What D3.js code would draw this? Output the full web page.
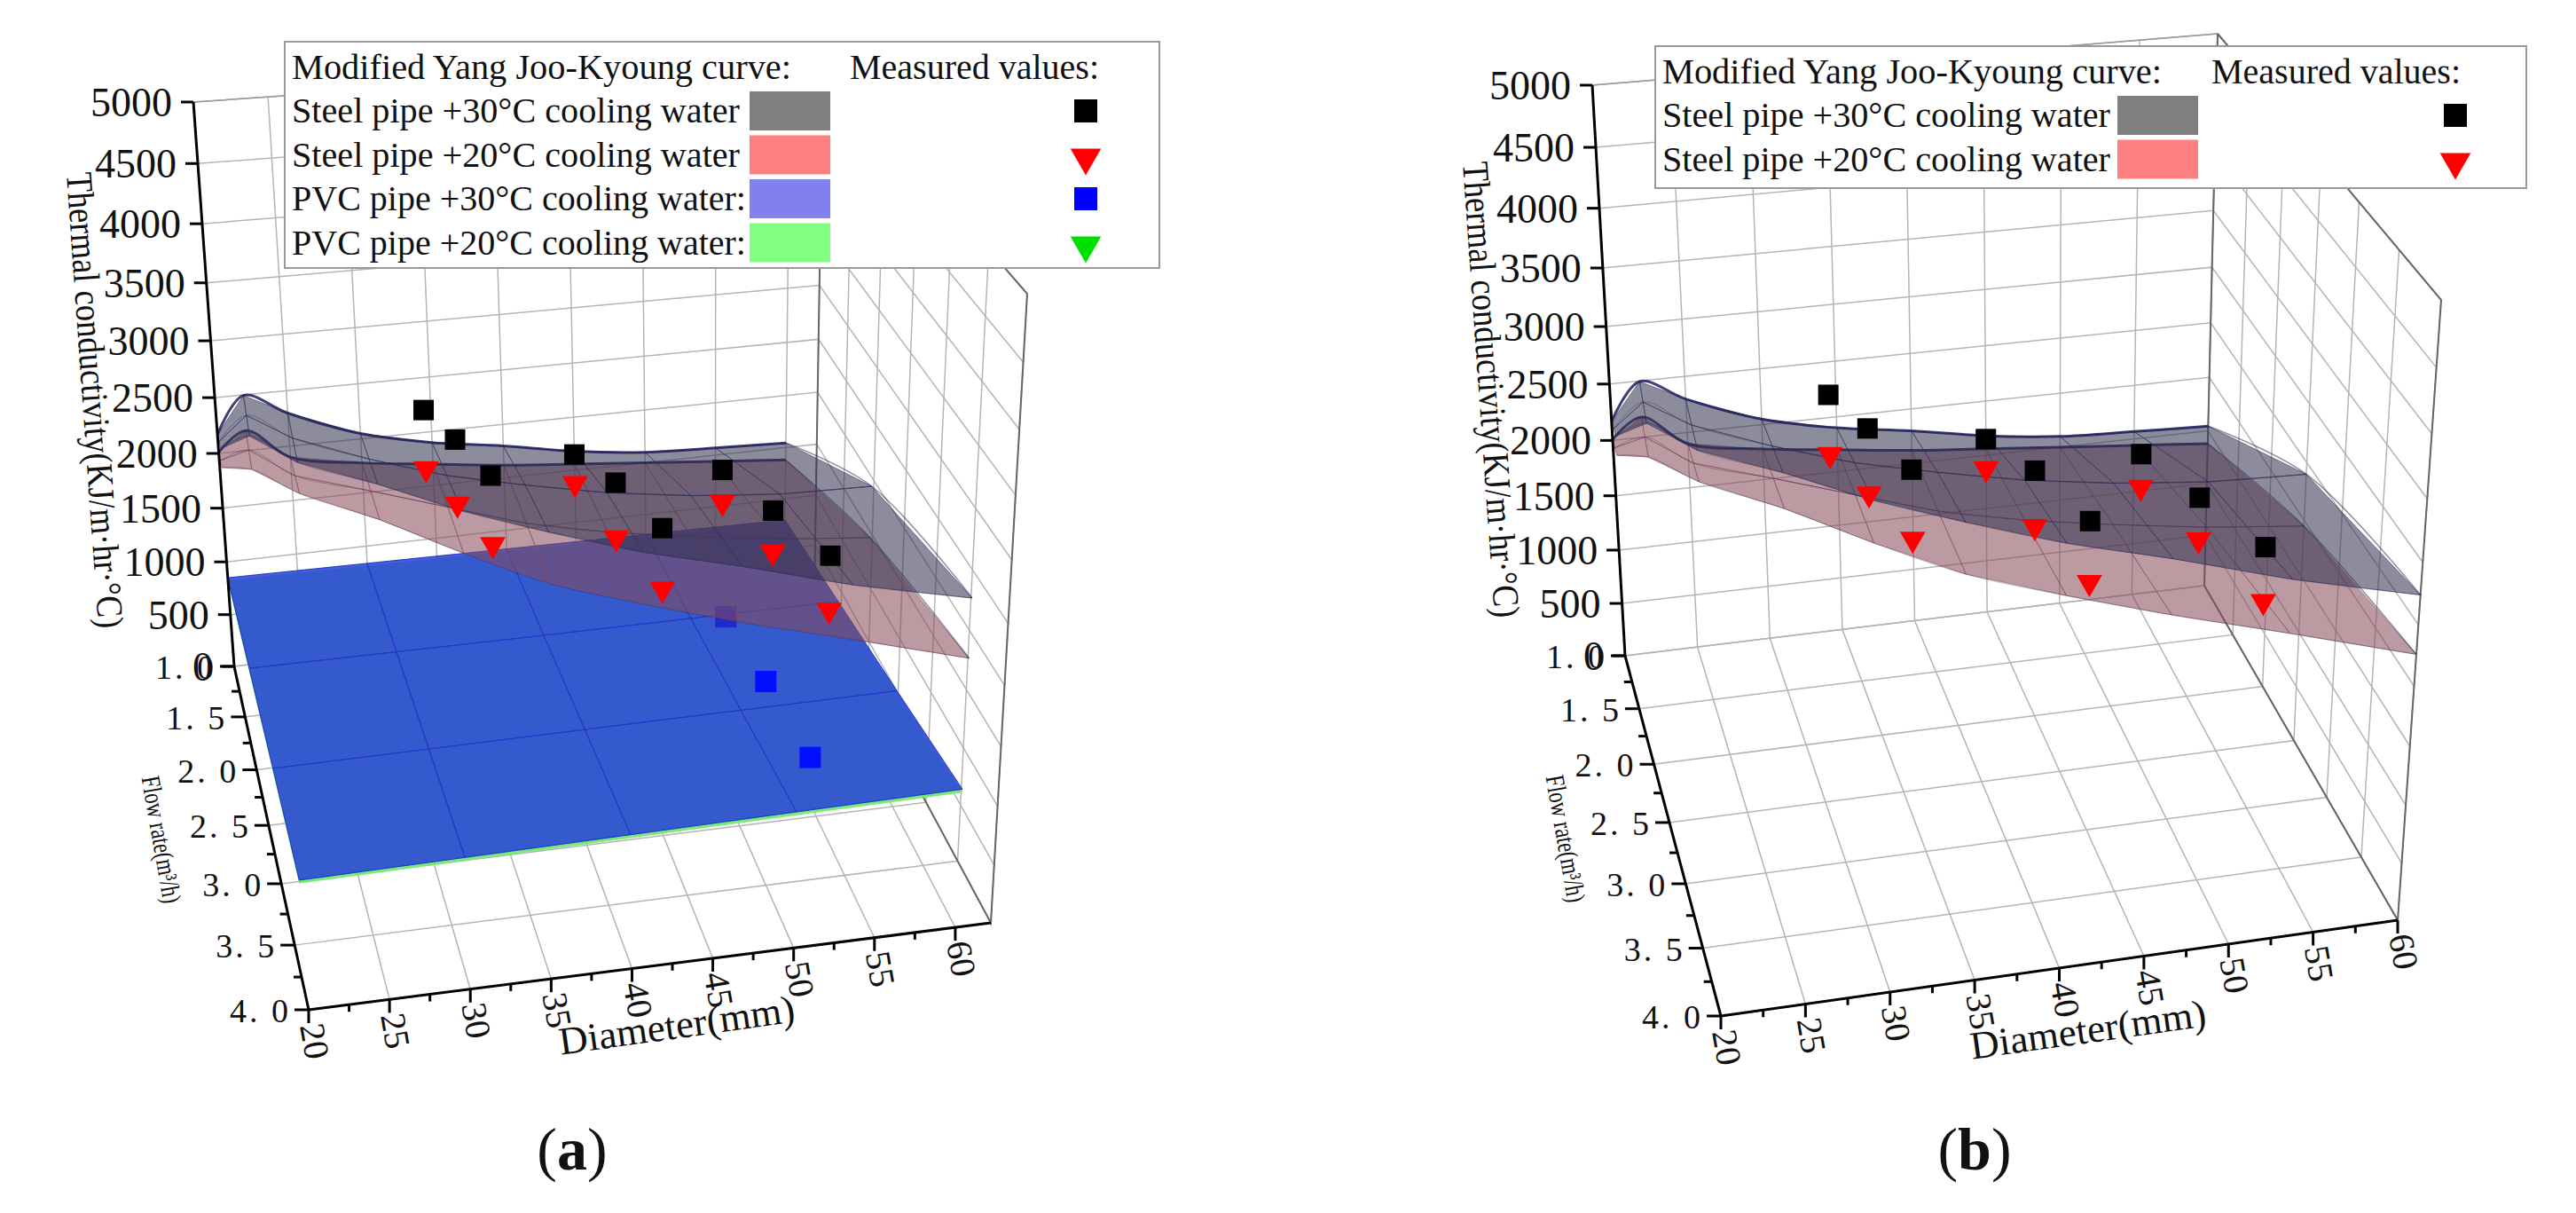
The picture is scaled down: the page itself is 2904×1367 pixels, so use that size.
<!DOCTYPE html>
<html>
<head>
<meta charset="utf-8">
<script src="https://cdn.jsdelivr.net/npm/d3@7"></script>
<style>
  body { margin: 0; background: #fff; }
  svg { display: block; }
  text { font-family: "Liberation Serif", "DejaVu Serif", serif; fill: #111; }
</style>
</head>
<body>
<svg id="chart" width="2904" height="1367"></svg>
<script>
// ---- values ----
const diameters = [20, 22, 25, 30, 35, 40, 45, 50, 55, 60];
const flowMax   = [1.15, 1.2, 1.35, 1.6, 1.9, 2.2, 2.6, 3.0, 3.5, 4.0];

const steel30Back  = [2170, 2495, 2300, 2050, 1900, 1800, 1680, 1600, 1570, 1545];
const steel30Mid   = [2170, 2400, 2220, 2070, 1980, 1950, 1980, 2050, 2200, 2400];
const steel30Front = [2170, 2300, 2150, 2100, 2050, 2050, 2150, 2300, 2500, 2740];

const steel20Back  = [2010, 2180, 1900, 1780, 1700, 1620, 1560, 1500, 1440, 1380];
const steel20Mid   = [2000, 2090, 1880, 1780, 1690, 1600, 1620, 1680, 1800, 1950];
const steel20Front = [2000, 2000, 1870, 1780, 1670, 1590, 1695, 1820, 2050, 2260];

const pvcDiameters = [20, 30, 40, 50, 60];
const pvcFlows     = [1, 2, 3, 4];
const pvc30 = [
  [850, 835, 820, 805, 790],
  [950, 940, 930, 925, 920],
  [1050, 1050, 1050, 1050, 1050],
  [1145, 1155, 1165, 1175, 1184]
];
const pvc20 = [
  [825, 810, 795, 780, 765],
  [925, 915, 905, 900, 895],
  [1025, 1025, 1025, 1025, 1025],
  [1120, 1130, 1140, 1150, 1159]
];

const measDiameter = [34.5, 34.5, 34.5, 45, 45, 45, 55.5, 55.5, 55.5];
const measFlow     = [1, 2, 3, 1, 2, 3, 1, 2, 3];
const steel30Meas  = [2205, 2770, 3310, 1650, 2240, 2705, 1350, 1830, 2300];
const steel20Meas  = [1665, 2205, 2740, 1375, 1745, 2190, 1035, 1450, 1835];

const pvcMeasDiameter = [52.1, 52.5, 52.9];
const pvcMeasFlow     = [2.08, 2.74, 3.43];
const pvc30Meas = [980, 1010, 1010];
const pvc20Meas = [940, 960, 960];

const kTicks = d3.range(0, 5001, 500);
const flowTicks = [1.0, 1.5, 2.0, 2.5, 3.0, 3.5, 4.0];
const diameterTicks = d3.range(20, 61, 5);

// ---- scales ----
const kScale = d3.scaleLinear().domain([0, 5000]).range([0, 1]);
const fScale = d3.scaleLinear().domain([1, 4]).range([0, 1]);
// perspective foreshortening along depth / height
const warp = s => t => t / (t + s * (1 - t));
const kWarp = warp(1.1), fWarp = warp(1.16);

const svg = d3.select('#chart');

const panelA = {
  dMax: 62.2,
  A: [264, 751], B: [348, 1138], C: [1117, 1040], D: [918, 670],
  E: [218, 115], H: [298, 451], G: [1158, 331], F: [928, 66]
};
const panelB = {
  dMax: 60,
  A: [1832, 739], B: [1940, 1145], C: [2703, 1037], D: [2485, 660],
  E: [1795, 96], H: [1900, 451], G: [2752, 338], F: [2500, 38]
};

function makeProj(c) {
  const dScale = d3.scaleLinear().domain([20, c.dMax]).range([0, 1]);
  const lerp = (p, q, t) => [p[0] + (q[0] - p[0]) * t, p[1] + (q[1] - p[1]) * t];
  return (d, f, k) => {
    const a = dScale(d), b = fWarp(fScale(f)), h = kWarp(kScale(k));
    const bottom = lerp(lerp(c.A, c.D, a), lerp(c.B, c.C, a), b);
    const top = lerp(lerp(c.E, c.F, a), lerp(c.H, c.G, a), b);
    return lerp(bottom, top, h);
  };
}

const triSmall = d3.symbol().type(d3.symbolTriangle).size(360);
const triLegend = d3.symbol().type(d3.symbolTriangle).size(520);

function drawPanel(c, opt) {
  const P = makeProj(c);
  const dm = c.dMax;
  const g = svg.append('g');
  const line = d3.line();
  const seg = (pts, stroke, width) => g.append('path').attr('d', line(pts))
    .attr('fill', 'none').attr('stroke', stroke).attr('stroke-width', width);

  // walls and floor grid
  const grid = '#b4b4b4';
  diameterTicks.forEach(d => {
    seg([P(d, 1, 0), P(d, 1, 5000)], grid, 1.5);
    seg([P(d, 1, 0), P(d, 4, 0)], grid, 1.5);
  });
  kTicks.forEach(k => seg([P(20, 1, k), P(dm, 1, k), P(dm, 4, k)], grid, 1.5));
  flowTicks.forEach(f => seg([P(20, f, 0), P(dm, f, 0), P(dm, f, 5000)], grid, 1.5));
  seg([P(20, 1, 5000), P(dm, 1, 5000)], '#999', 1.5);
  seg([P(dm, 1, 5000), P(dm, 4, 5000), P(dm, 4, 0), P(dm, 1, 0), P(dm, 1, 5000)], '#666', 2);

  function square(p, col, size, parent) {
    (parent || g).append('rect').attr('x', p[0] - size / 2).attr('y', p[1] - size / 2)
      .attr('width', size).attr('height', size).attr('fill', col);
  }
  function down(p, col, sym, parent) {
    (parent || g).append('path').attr('d', sym)
      .attr('transform', `translate(${p[0]},${p[1]}) rotate(180)`).attr('fill', col);
  }

  // PVC planes
  if (opt.pvc) {
    pvcMeasDiameter.forEach((d, i) => down(P(d, pvcMeasFlow[i], pvc20Meas[i]), '#0a8a5a', triSmall));
    [[pvc20, 'rgb(120,235,120)', 1], [pvc30, 'rgb(40,65,220)', 0.85]].forEach(([gr, col, op]) => {
      for (let i = 0; i < pvcFlows.length - 1; i++) {
        for (let j = 0; j < pvcDiameters.length - 1; j++) {
          const q = [
            P(pvcDiameters[j], pvcFlows[i], gr[i][j]),
            P(pvcDiameters[j + 1], pvcFlows[i], gr[i][j + 1]),
            P(pvcDiameters[j + 1], pvcFlows[i + 1], gr[i + 1][j + 1]),
            P(pvcDiameters[j], pvcFlows[i + 1], gr[i + 1][j])
          ];
          g.append('path').attr('d', line(q) + 'Z').attr('fill', col)
            .attr('fill-opacity', op).attr('stroke', col).attr('stroke-width', 1);
        }
      }
    });
    pvcFlows.forEach((f, i) => seg(pvcDiameters.map((d, j) => P(d, f, pvc30[i][j])), 'rgba(20,30,140,0.25)', 1.2));
    pvcDiameters.forEach((d, j) => seg(pvcFlows.map((f, i) => P(d, f, pvc30[i][j])), 'rgba(20,30,140,0.25)', 1.2));
    square(P(pvcMeasDiameter[0], pvcMeasFlow[0], pvc30Meas[0]), '#1e2ad0', 24);
  }

  // steel surfaces
  function surface(back, mid, front, fill, op) {
    const rows = [back, mid, front];
    const node = (j, r) => P(diameters[j], 1 + (flowMax[j] - 1) * r / 2, rows[r][j]);
    const curve = d3.line().curve(d3.curveCatmullRom);
    for (let r = 0; r < 2; r++) {
      for (let j = 0; j < diameters.length - 1; j++) {
        g.append('path').attr('d', line([node(j, r), node(j + 1, r), node(j + 1, r + 1), node(j, r + 1)]) + 'Z')
          .attr('fill', fill).attr('fill-opacity', op)
          .attr('stroke', fill).attr('stroke-opacity', op).attr('stroke-width', 1);
      }
    }
    for (let r = 0; r < 3; r++) {
      g.append('path').attr('d', curve(diameters.map((d, j) => node(j, r))))
        .attr('fill', 'none').attr('stroke', '#1c1c5a')
        .attr('stroke-width', r === 0 ? 3 : 1).attr('stroke-opacity', r === 0 ? 0.85 : 0.3);
    }
    const last = diameters.length - 1;
    g.append('path').attr('d', curve([node(last, 0), node(last, 1), node(last, 2)]))
      .attr('fill', 'none').attr('stroke', '#1c1c5a').attr('stroke-width', 1.5).attr('stroke-opacity', 0.5);
  }
  surface(steel20Back, steel20Mid, steel20Front, 'rgb(135,75,90)', 0.56);
  surface(steel30Back, steel30Mid, steel30Front, 'rgb(50,50,80)', 0.56);

  // measured points
  measDiameter.forEach((d, i) => down(P(d, measFlow[i], steel20Meas[i]), '#ff0000', triSmall));
  measDiameter.forEach((d, i) => square(P(d, measFlow[i], steel30Meas[i]), '#000', 23));
  if (opt.pvc) {
    pvcMeasDiameter.slice(1).forEach((d, i) =>
      square(P(d, pvcMeasFlow[i + 1], pvc30Meas[i + 1]), '#0010ff', 24));
  }

  // axes
  seg([P(20, 1, 0), P(20, 1, 5000)], '#000', 3);
  seg([P(20, 1, 0), P(20, 4, 0)], '#000', 3);
  seg([P(20, 4, 0), P(dm, 4, 0)], '#000', 3);
  kTicks.forEach(k => {
    const p = P(20, 1, k);
    seg([p, [p[0] - 14, p[1]]], '#000', 3);
    g.append('text').attr('x', p[0] - 24).attr('y', p[1] + 16)
      .attr('text-anchor', 'end').attr('font-size', 46).text(k);
  });
  d3.range(1, 4.01, 0.25).forEach(f => {
    const p = P(20, f, 0), major = Math.abs(f * 2 - Math.round(f * 2)) < 1e-6;
    seg([p, [p[0] - (major ? 16 : 9), p[1]]], '#000', 3);
    if (major) g.append('text').attr('x', p[0] - 20).attr('y', p[1] + 14)
      .attr('text-anchor', 'end').attr('font-size', 38).attr('letter-spacing', 3)
      .text(f.toFixed(1).replace('.', '. '));
  });
  d3.range(20, 60.01, 2.5).forEach(d => {
    const p = P(d, 4, 0), major = d % 5 === 0;
    seg([p, [p[0], p[1] + (major ? 15 : 8)]], '#000', 3);
    if (major) g.append('text').attr('transform', `translate(${p[0] - 10},${p[1] + 18}) rotate(80)`)
      .attr('font-size', 40).text(d);
  });

  // axis titles and panel letter
  g.append('text').attr('transform', `translate(${opt.kt[0]},${opt.kt[1]}) rotate(86)`)
    .attr('text-anchor', 'middle').attr('font-size', 42).attr('textLength', 515)
    .attr('lengthAdjust', 'spacingAndGlyphs').text('Thermal conductivity(KJ/m·hr·°C)');
  g.append('text').attr('transform', `translate(${opt.ft[0]},${opt.ft[1]}) rotate(80)`)
    .attr('text-anchor', 'middle').attr('font-size', 30).attr('textLength', 145)
    .attr('lengthAdjust', 'spacingAndGlyphs').text('Flow rate(m³/h)');
  g.append('text').attr('transform', `translate(${opt.dt[0]},${opt.dt[1]}) rotate(-8)`)
    .attr('text-anchor', 'middle').attr('font-size', 44).attr('textLength', 268)
    .attr('lengthAdjust', 'spacingAndGlyphs').text('Diameter(mm)');
  const lab = g.append('text').attr('x', opt.lab[0]).attr('y', opt.lab[1])
    .attr('text-anchor', 'middle').attr('font-size', 68);
  lab.append('tspan').text('(');
  lab.append('tspan').attr('font-weight', 'bold').text(opt.letter);
  lab.append('tspan').text(')');

  // legend
  const L = opt.legend;
  const lg = g.append('g');
  const fit = (sel, len) => sel.attr('textLength', len).attr('lengthAdjust', 'spacingAndGlyphs');
  lg.append('rect').attr('x', L.x).attr('y', L.y).attr('width', L.w).attr('height', L.h)
    .attr('fill', '#fff').attr('stroke', '#999').attr('stroke-width', 2);
  fit(lg.append('text').attr('x', L.x + 8).attr('y', L.y + 42).attr('font-size', 41)
    .text('Modified Yang Joo-Kyoung curve:'), 563);
  fit(lg.append('text').attr('x', L.mx).attr('y', L.y + 42).attr('font-size', 41)
    .text('Measured values:'), 281);
  L.rows.forEach((r, i) => {
    const cy = L.y + 78 + i * 49.5;
    fit(lg.append('text').attr('x', L.x + 8).attr('y', cy + 13).attr('font-size', 41).text(r.label), r.len);
    lg.append('rect').attr('x', L.sx).attr('y', cy - 22).attr('width', 91).attr('height', 44)
      .attr('fill', r.swatch);
    if (r.marker === 'square') square([L.px, cy], r.mc, 26, lg);
    else down([L.px, cy + 3], r.mc, triLegend, lg);
  });
}

const rowsAll = [
  { label: 'Steel pipe +30°C cooling water', len: 505, swatch: '#808080', marker: 'square', mc: '#000' },
  { label: 'Steel pipe +20°C cooling water', len: 505, swatch: '#ff8080', marker: 'tri', mc: '#ff0000' },
  { label: 'PVC pipe +30°C cooling water:', len: 512, swatch: '#8080f0', marker: 'square', mc: '#0000ff' },
  { label: 'PVC pipe +20°C cooling water:', len: 512, swatch: '#80ff80', marker: 'tri', mc: '#00e000' }
];

drawPanel(panelA, {
  pvc: true, letter: 'a',
  kt: [93, 452], ft: [172, 948], dt: [765, 1170], lab: [645, 1318],
  legend: { x: 321, y: 47, w: 986, h: 255, mx: 958, sx: 845, px: 1224, rows: rowsAll }
});
drawPanel(panelB, {
  pvc: false, letter: 'b',
  kt: [1667, 440], ft: [1755, 947], dt: [2356, 1175], lab: [2226, 1318],
  legend: { x: 1866, y: 52, w: 982, h: 160, mx: 2493, sx: 2387, px: 2768, rows: rowsAll.slice(0, 2) }
});
</script>
</body>
</html>
